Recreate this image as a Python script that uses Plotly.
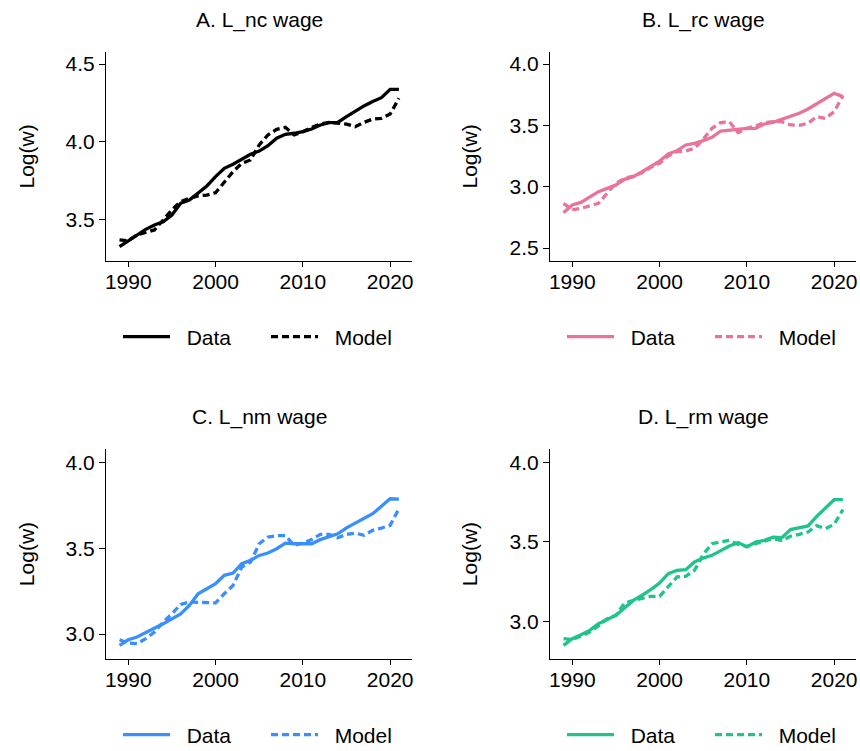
import plotly.graph_objects as go

years = list(range(1989, 2022))

nc_data = [3.329, 3.367, 3.408, 3.440, 3.468, 3.489, 3.532, 3.607, 3.628, 3.671, 3.718,
           3.778, 3.831, 3.857, 3.891, 3.921, 3.942, 3.976, 4.024, 4.049, 4.056, 4.066,
           4.083, 4.109, 4.124, 4.126, 4.162, 4.199, 4.231, 4.259, 4.284, 4.338, 4.338]
nc_model = [3.372, 3.367, 3.404, 3.419, 3.436, 3.500, 3.564, 3.618, 3.639, 3.654, 3.660,
            3.675, 3.746, 3.810, 3.863, 3.885, 3.981, 4.045, 4.081, 4.094, 4.045, 4.066,
            4.094, 4.115, 4.126, 4.120, 4.115, 4.098, 4.126, 4.147, 4.152, 4.179, 4.280]

rc_data = [2.788, 2.851, 2.872, 2.913, 2.959, 2.986, 3.014, 3.060, 3.082, 3.122, 3.163,
           3.209, 3.266, 3.293, 3.340, 3.353, 3.375, 3.402, 3.454, 3.462, 3.470, 3.476,
           3.476, 3.511, 3.524, 3.549, 3.571, 3.598, 3.633, 3.674, 3.720, 3.761, 3.734]
rc_model = [2.864, 2.810, 2.823, 2.842, 2.864, 2.946, 3.027, 3.068, 3.087, 3.114, 3.158,
            3.190, 3.250, 3.285, 3.291, 3.313, 3.386, 3.476, 3.522, 3.530, 3.440, 3.476,
            3.495, 3.522, 3.530, 3.530, 3.503, 3.500, 3.516, 3.571, 3.557, 3.611, 3.742]

nm_data = [2.934, 2.967, 2.983, 3.008, 3.031, 3.060, 3.089, 3.118, 3.167, 3.235, 3.264,
           3.293, 3.342, 3.355, 3.410, 3.429, 3.458, 3.472, 3.497, 3.530, 3.526, 3.526,
           3.526, 3.550, 3.569, 3.584, 3.619, 3.647, 3.676, 3.701, 3.744, 3.788, 3.786]
nm_model = [2.967, 2.948, 2.944, 2.973, 3.012, 3.070, 3.118, 3.173, 3.186, 3.186, 3.184,
            3.182, 3.235, 3.283, 3.390, 3.419, 3.526, 3.565, 3.573, 3.573, 3.517, 3.530,
            3.550, 3.581, 3.581, 3.561, 3.581, 3.588, 3.575, 3.604, 3.617, 3.633, 3.730]

rm_data = [2.849, 2.891, 2.916, 2.943, 2.985, 3.010, 3.038, 3.084, 3.132, 3.164, 3.199,
           3.241, 3.300, 3.321, 3.325, 3.373, 3.398, 3.415, 3.447, 3.474, 3.495, 3.468,
           3.499, 3.509, 3.530, 3.526, 3.577, 3.587, 3.600, 3.660, 3.713, 3.765, 3.765]
rm_model = [2.891, 2.885, 2.906, 2.933, 2.971, 3.017, 3.038, 3.115, 3.132, 3.143, 3.157,
            3.157, 3.216, 3.279, 3.283, 3.321, 3.421, 3.488, 3.499, 3.509, 3.484, 3.472,
            3.488, 3.503, 3.520, 3.509, 3.535, 3.547, 3.562, 3.602, 3.583, 3.610, 3.702]

titles = ["A. L_nc wage", "B. L_rc wage", "C. L_nm wage", "D. L_rm wage"]
colors = ["#000000", "#E8739C", "#3A8FFF", "#20C38A"]
series = [(nc_data, nc_model), (rc_data, rc_model), (nm_data, nm_model), (rm_data, rm_model)]
series_names = ["Data", "Model"]
y_ticks = [[3.5, 4.0, 4.5], [2.5, 3.0, 3.5, 4.0], [3.0, 3.5, 4.0], [3.0, 3.5, 4.0]]
y_ranges = [[3.237, 4.577], [2.394, 4.098], [2.855, 4.076], [2.763, 4.082]]
x_ticks = [1990, 2000, 2010, 2020]
y_label = "Log(w)"

W, H = 860, 751
FONT = "Liberation Sans, Arial, sans-serif"
xdoms = [[106 / W, 412 / W], [550 / W, 856 / W]]
ydoms = [[1 - 261 / H, 1 - 52 / H], [1 - 659 / H, 1 - 449.3 / H]]

fig = go.Figure()
for i in range(4):
    r, c = divmod(i, 2)
    n = i + 1
    xa = "x" if n == 1 else f"x{n}"
    ya = "y" if n == 1 else f"y{n}"
    lg = "legend" if n == 1 else f"legend{n}"
    d, m = series[i]
    fig.add_trace(go.Scatter(x=years, y=d, mode="lines", name="  " + series_names[0],
                             line=dict(color=colors[i], width=3.3),
                             xaxis=xa, yaxis=ya, legend=lg, hoverinfo="skip"))
    fig.add_trace(go.Scatter(x=years, y=m, mode="lines", name="  " + series_names[1],
                             line=dict(color=colors[i], width=3.3, dash="7px,4px"),
                             xaxis=xa, yaxis=ya, legend=lg, hoverinfo="skip"))
    axcommon = dict(showgrid=False, zeroline=False, showline=True, linecolor="black",
                    linewidth=1, ticks="outside", tickcolor="black",
                    tickfont=dict(family=FONT, size=21, color="black"), mirror=False)
    xkey = "xaxis" if n == 1 else f"xaxis{n}"
    ykey = "yaxis" if n == 1 else f"yaxis{n}"
    fig.layout[xkey] = dict(domain=xdoms[c], anchor=ya, range=[1987.45, 2022.5],
                            tickvals=x_ticks, ticklen=5, ticklabelstandoff=-3, **axcommon)
    fig.layout[ykey] = dict(domain=ydoms[r], anchor=xa, range=y_ranges[i],
                            tickvals=y_ticks[i], tickformat=".1f", ticklen=6,
                            ticklabelstandoff=0, **axcommon)
    xc = (xdoms[c][0] + xdoms[c][1]) / 2
    ty = [1 - 20 / H, 1 - 417 / H][r]
    fig.add_annotation(text=titles[i], x=xc, y=ty, xref="paper", yref="paper",
                       showarrow=False, xanchor="center", yanchor="middle",
                       font=dict(family=FONT, size=21, color="black"))
    lx = [26 / W, 469 / W][c]
    ly = (ydoms[r][0] + ydoms[r][1]) / 2
    fig.add_annotation(text=y_label, x=lx, y=ly, xref="paper", yref="paper",
                       showarrow=False, textangle=-90, xanchor="center", yanchor="middle",
                       font=dict(family=FONT, size=21, color="black"))
    legx = [118 / W, 562 / W][c]
    legy = [1 - 337 / H, 1 - 735 / H][r]
    fig.layout[lg] = dict(orientation="h", x=legx, xanchor="left", y=legy, yanchor="middle",
                          xref="paper", yref="paper", bgcolor="rgba(0,0,0,0)",
                          font=dict(family=FONT, size=21, color="black"),
                          itemwidth=47, entrywidth=86, tracegroupgap=0)

fig.update_layout(width=W, height=H,
                  margin=dict(l=0, r=0, t=0, b=0, pad=0, autoexpand=False),
                  paper_bgcolor="white", plot_bgcolor="white", showlegend=True,
                  hovermode=False)
fig.write_html("out.html", config={"displayModeBar": False},
               post_script="document.body.style.margin='0';document.body.style.padding='0';")
